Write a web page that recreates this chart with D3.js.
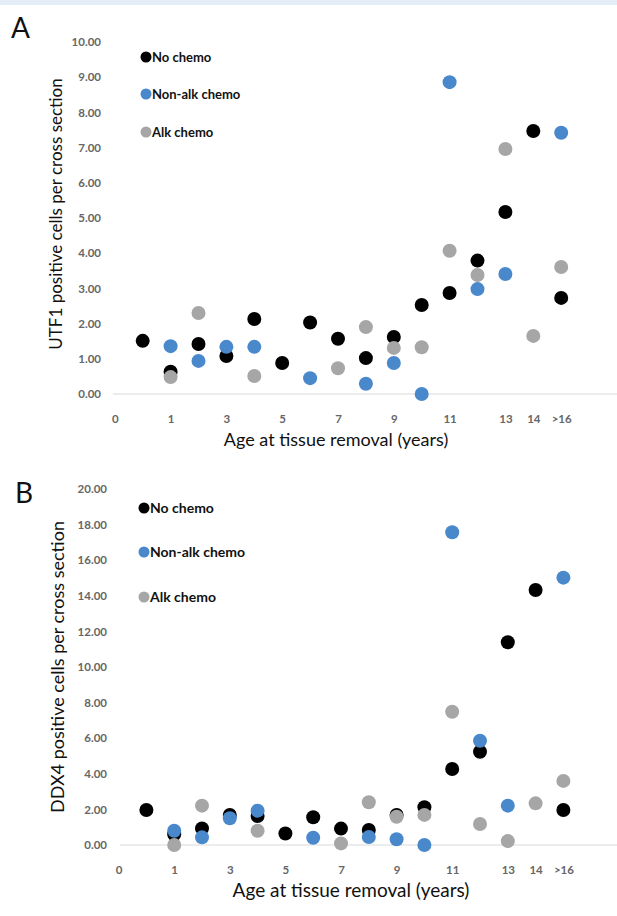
<!DOCTYPE html>
<html>
<head>
<meta charset="utf-8">
<script src="https://cdn.jsdelivr.net/npm/d3@7"></script>
<style>
  html, body { margin: 0; padding: 0; background: #ffffff; }
  svg { display: block; }
  text { font-family: Lato, "Open Sans", sans-serif; }
</style>
</head>
<body>
<svg id="chart" width="617" height="916"></svg>
<script>
// ---- Data ----
const slots = [1, 2, 3, 4, 5, 6, 7, 8, 9, 10, 11, 12, 13, 14, 15, 16];
const ageTickSlots = [0, 2, 4, 6, 8, 10, 12, 14, 15, 16];
const ageTickLabels = ["0", "1", "3", "5", "7", "9", "11", "13", "14", ">16"];
const seriesNames = ["No chemo", "Non-alk chemo", "Alk chemo"];
const seriesColors = ["#000000", "#4a88cc", "#a6a6a6"];

const utf1NoChemo = [1.51, 0.63, 1.42, 1.08, 2.13, 0.88, 2.03, 1.57, 1.02, 1.62, 2.53, 2.87, 3.79, 5.17, 7.47, 2.73];
const utf1NonAlk  = [null, 1.36, 0.94, 1.34, 1.34, null, 0.45, null, 0.29, 0.88, 0.00, 8.86, 2.98, 3.41, null, 7.42];
const utf1Alk     = [null, 0.48, 2.30, null, 0.51, null, null, 0.73, 1.90, 1.31, 1.33, 4.07, 3.38, 6.96, 1.65, 3.61];
const utf1Ticks = [0, 1, 2, 3, 4, 5, 6, 7, 8, 9, 10];

const ddx4NoChemo = [1.97, 0.60, 0.93, 1.69, 1.63, 0.65, 1.56, 0.92, 0.84, 1.69, 2.12, 4.27, 5.24, 11.39, 14.33, 1.97];
const ddx4NonAlk  = [null, 0.80, 0.43, 1.50, 1.93, null, 0.41, null, 0.45, 0.32, 0.00, 17.57, 5.86, 2.21, null, 15.02];
const ddx4Alk     = [null, 0.00, 2.21, null, 0.80, null, null, 0.09, 2.40, 1.59, 1.69, 7.49, 1.18, 0.22, 2.34, 3.60];
const ddx4Ticks = [0, 2, 4, 6, 8, 10, 12, 14, 16, 18, 20];

const svg = d3.select("#chart");
svg.append("rect").attr("x", 0).attr("y", 0).attr("width", 617).attr("height", 5).attr("fill", "#e4edf7");

function drawPanel(cfg) {
  const g = svg.append("g");
  const x = d3.scaleLinear().domain([0, 16]).range(cfg.xRange);
  const y = d3.scaleLinear().domain(cfg.yDomain).range(cfg.yRange);

  // panel letter
  g.append("text").attr("x", cfg.letterPos[0]).attr("y", cfg.letterPos[1])
    .attr("font-size", 28).attr("fill", "#111").text(cfg.letter);

  // y axis labels
  const ya = g.append("g").attr("transform", `translate(${cfg.yLabelX},0)`)
    .call(d3.axisLeft(y).tickValues(cfg.yTicks).tickFormat(d3.format(".2f")).tickSize(0).tickPadding(0));
  ya.select(".domain").remove();
  ya.selectAll("text").attr("font-size", 11.5).attr("fill", "#666666")
    .attr("font-family", "Lato, sans-serif").attr("font-weight", "bold");

  // x axis line
  g.append("line").attr("x1", cfg.axisStart).attr("x2", 617)
    .attr("y1", y(0)).attr("y2", y(0)).attr("stroke", "#d9d9d9").attr("stroke-width", 1);

  // x axis labels
  const xa = g.append("g").attr("transform", `translate(0,${y(0) + cfg.xLabelGap})`)
    .call(d3.axisBottom(x).tickValues(ageTickSlots)
      .tickFormat((d, i) => ageTickLabels[i]).tickSize(0).tickPadding(0));
  xa.select(".domain").remove();
  xa.selectAll("text").attr("font-size", 11.5).attr("fill", "#666666")
    .attr("font-family", "Lato, sans-serif").attr("font-weight", "bold");

  // axis titles
  g.append("text").attr("x", cfg.xTitlePos[0]).attr("y", cfg.xTitlePos[1])
    .attr("text-anchor", "middle").attr("font-size", cfg.titleSize).attr("fill", "#111")
    .text("Age at tissue removal (years)");
  g.append("text")
    .attr("transform", `translate(${cfg.yTitlePos[0]},${cfg.yTitlePos[1]}) rotate(-90)`)
    .attr("text-anchor", "middle").attr("font-size", cfg.titleSize - 1).attr("fill", "#111")
    .text(cfg.yTitle);

  // points
  cfg.series.forEach((vals, si) => {
    const pts = slots.map((s, i) => ({ s, v: vals[i] })).filter(d => d.v !== null);
    g.append("g").selectAll("circle").data(pts).join("circle")
      .attr("cx", d => x(d.s)).attr("cy", d => y(d.v)).attr("r", 7)
      .attr("fill", seriesColors[si]);
  });

  // legend
  seriesNames.forEach((name, i) => {
    const ly = cfg.legendY[i];
    g.append("circle").attr("cx", cfg.legendX).attr("cy", ly).attr("r", 5.5).attr("fill", seriesColors[i]);
    g.append("text").attr("x", cfg.legendX + 6).attr("y", ly).attr("dy", "0.35em")
      .attr("font-size", cfg.legendSize).attr("font-weight", "bold").attr("fill", "#111").text(name);
  });
}

drawPanel({
  letter: "A", letterPos: [11, 38],
  xRange: [114.8, 561.2], yDomain: [0, 10], yRange: [394, 42],
  yTicks: utf1Ticks, yLabelX: 101, axisStart: 113, xLabelGap: 21,
  xTitlePos: [336, 446], yTitlePos: [62, 214], titleSize: 18,
  yTitle: "UTF1 positive cells per cross section",
  series: [utf1NoChemo, utf1NonAlk, utf1Alk],
  legendX: 146, legendY: [57, 94, 132], legendSize: 13
});

drawPanel({
  letter: "B", letterPos: [15, 503],
  xRange: [118.6, 563.4], yDomain: [0, 20], yRange: [845, 489],
  yTicks: ddx4Ticks, yLabelX: 107, axisStart: 120, xLabelGap: 21,
  xTitlePos: [351, 897], yTitlePos: [64, 667], titleSize: 19,
  yTitle: "DDX4 positive cells per cross section",
  series: [ddx4NoChemo, ddx4NonAlk, ddx4Alk],
  legendX: 144, legendY: [508, 552, 597], legendSize: 14
});
</script>
</body>
</html>
